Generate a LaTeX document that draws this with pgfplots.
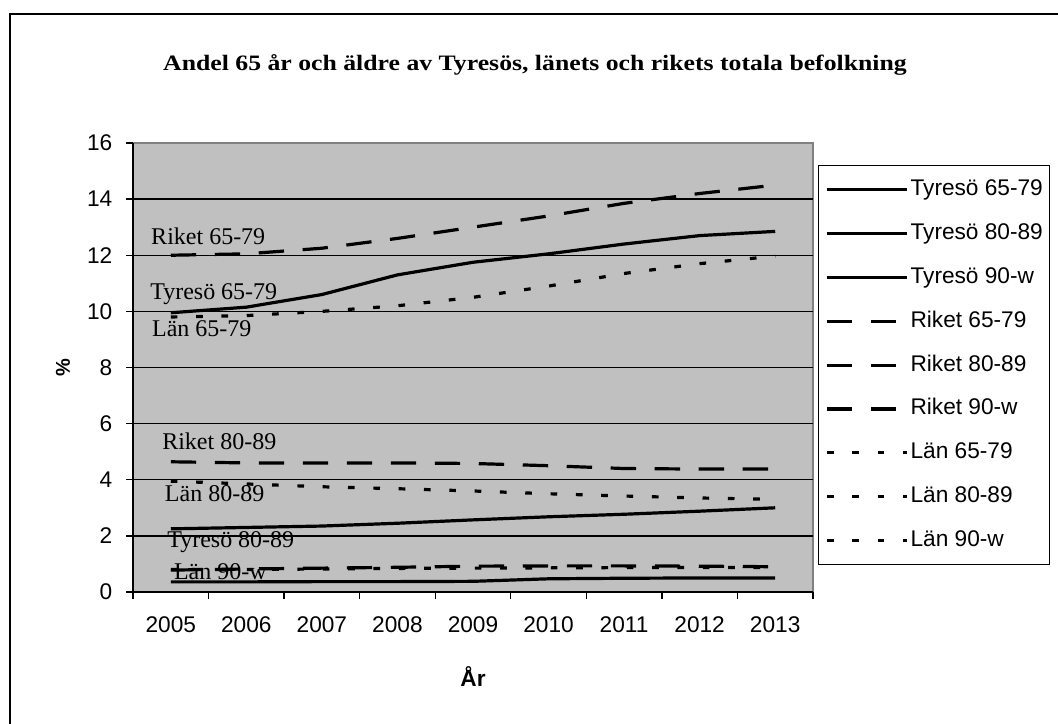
\documentclass[border=0pt]{standalone}
\usepackage{fontspec}
\setmainfont{Liberation Serif}
\setsansfont{Liberation Sans}
\usepackage{graphicx}
\usepackage{pgfplots}
\usepackage{pgfplotstable}
\pgfplotsset{compat=1.18}
\definecolor{silver}{HTML}{C0C0C0}
\definecolor{plotborder}{HTML}{808080}
\newcommand{\tickfont}{\sffamily\fontsize{17}{20}\selectfont}
\newcommand{\lblfont}{\rmfamily\fontsize{18}{20}\selectfont}

\pgfplotstableread{
year TyA TyB TyC RiA RiB RiC LaA LaB LaC
2005 9.95 2.25 0.36 12.00 4.64 0.78 9.80 3.95 0.80
2006 10.15 2.30 0.36 12.05 4.60 0.82 9.85 3.85 0.80
2007 10.60 2.35 0.37 12.25 4.60 0.85 10.00 3.75 0.82
2008 11.30 2.45 0.37 12.60 4.60 0.88 10.20 3.68 0.84
2009 11.75 2.57 0.38 13.00 4.58 0.92 10.50 3.60 0.85
2010 12.05 2.68 0.47 13.40 4.50 0.93 10.90 3.50 0.86
2011 12.40 2.77 0.49 13.85 4.40 0.93 11.35 3.42 0.87
2012 12.70 2.88 0.50 14.20 4.38 0.92 11.70 3.35 0.87
2013 12.85 3.00 0.50 14.50 4.38 0.90 11.97 3.30 0.87
}\datatable

\begin{document}
\begin{tikzpicture}
\draw[line width=1.5pt] (7.5pt,-20pt) -- (7.5pt,532.5pt) -- (820pt,532.5pt);
\node[font=\rmfamily\bfseries\fontsize{16.5}{20}\selectfont, inner sep=0pt] at (401.25pt,494.25pt)
  {\scalebox{1.17}[1]{Andel 65 år och äldre av Tyresös, länets och rikets totala befolkning}};
\begin{axis}[
  at={(99.75pt,99pt)}, anchor=south west,
  scale only axis, width=510pt, height=336.75pt,
  xmin=2004.5, xmax=2013.5, ymin=0, ymax=16,
  axis x line*=bottom, axis y line*=left,
  axis line style={line width=1pt, black, -},
  axis background/.style={fill=silver, draw=plotborder, line width=1pt},
  xtick={2005,...,2013},
  minor xtick={2004.5,2005.5,...,2013.5},
  major x tick style={draw=none},
  minor tick length=5pt, major tick length=5pt, tick align=outside,
  ytick={0,2,...,14}, extra y ticks={16}, extra y tick style={grid=none},
  ymajorgrids, major grid style={black, line width=1pt},
  tick style={black, line width=1pt},
  tick label style={font=\tickfont},
  xticklabel style={yshift=-10pt},
  yticklabel style={xshift=-7pt},
  /pgf/number format/assume math mode=true,
  /pgf/number format/1000 sep={},
  xlabel={År}, ylabel={\%},
  xlabel style={font=\sffamily\bfseries\fontsize{17}{20}\selectfont, at={(axis description cs:0.5,-0.189)}, anchor=center},
  ylabel style={font=\sffamily\bfseries\fontsize{15}{18}\selectfont, at={(axis description cs:-0.103,0.5)}, anchor=center},
  legend image code/.code={\draw[#1] (0pt,0pt) -- (60pt,0pt);},
  legend cell align=left,
  legend style={at={(1.0074,0.951)}, anchor=north west, draw=black, line width=1pt, fill=white,
    font=\tickfont, row sep=16.9pt, inner xsep=5pt, inner ysep=10pt,
    nodes={inner sep=0pt, text height=12.5pt, text depth=3.5pt},
    /tikz/every odd column/.append style={column sep=1.5pt}},
]
\addplot[black, line width=2.4pt] table[x=year, y=TyA] {\datatable};
\addlegendentry{Tyresö 65-79}
\addplot[black, line width=2.4pt] table[x=year, y=TyB] {\datatable};
\addlegendentry{Tyresö 80-89}
\addplot[black, line width=2.4pt] table[x=year, y=TyC] {\datatable};
\addlegendentry{Tyresö 90-w}
\addplot[black, line width=2.4pt, dash pattern=on 19pt off 14pt] table[x=year, y=RiA] {\datatable};
\addlegendentry{Riket 65-79}
\addplot[black, line width=2.4pt, dash pattern=on 19pt off 14pt] table[x=year, y=RiB] {\datatable};
\addlegendentry{Riket 80-89}
\addplot[black, line width=2.4pt, dash pattern=on 19pt off 14pt] table[x=year, y=RiC] {\datatable};
\addlegendentry{Riket 90-w}
\addplot[black, line width=2.4pt, dash pattern=on 5pt off 14pt] table[x=year, y=LaA] {\datatable};
\addlegendentry{Län 65-79}
\addplot[black, line width=2.4pt, dash pattern=on 5pt off 14pt] table[x=year, y=LaB] {\datatable};
\addlegendentry{Län 80-89}
\addplot[black, line width=2.4pt, dash pattern=on 5pt off 14pt] table[x=year, y=LaC] {\datatable};
\addlegendentry{Län 90-w}

\node[anchor=base west, inner sep=0pt, font=\lblfont] at (axis cs:2004.738,12.37) {Riket 65-79};
\node[anchor=base west, inner sep=0pt, font=\lblfont] at (axis cs:2004.725,10.42) {Tyresö 65-79};
\node[anchor=base west, inner sep=0pt, font=\lblfont] at (axis cs:2004.75,9.09) {Län 65-79};
\node[anchor=base west, inner sep=0pt, font=\lblfont] at (axis cs:2004.884,5.06) {Riket 80-89};
\node[anchor=base west, inner sep=0pt, font=\lblfont] at (axis cs:2004.92,3.23) {Län 80-89};
\node[anchor=base west, inner sep=0pt, font=\lblfont] at (axis cs:2004.95,1.60) {Tyresö 80-89};
\node[anchor=base west, inner sep=0pt, font=\lblfont] at (axis cs:2005.04,0.43) {Län 90-w};
\end{axis}
\pgfresetboundingbox
\useasboundingbox (0pt,0pt) rectangle (793.5pt,543pt);
\end{tikzpicture}
\end{document}
